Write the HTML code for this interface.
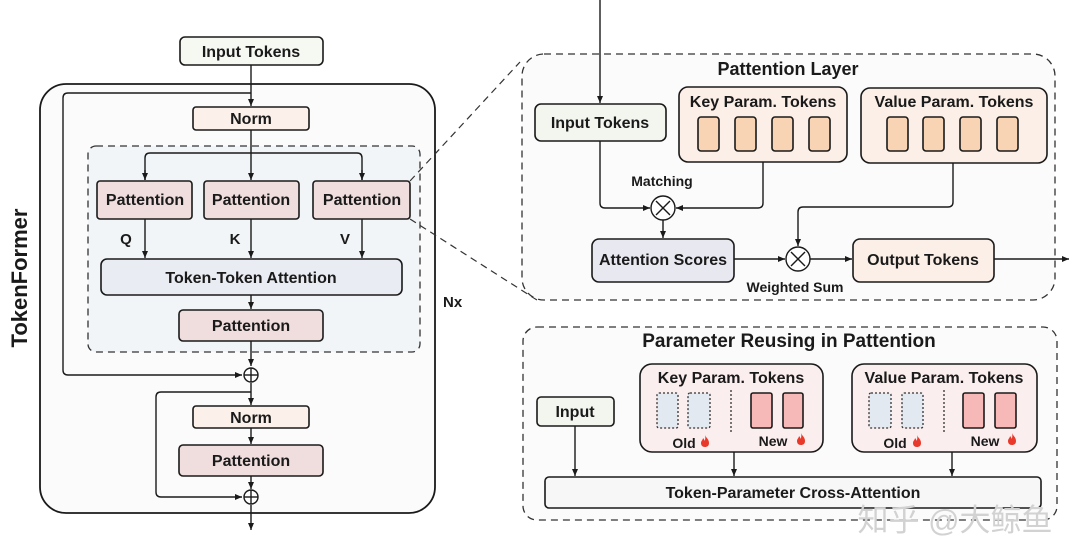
<!DOCTYPE html>
<html><head><meta charset="utf-8"><style>
html,body{margin:0;padding:0;background:#fff;}
svg{display:block;}
text{font-family:"Liberation Sans","Noto Sans CJK SC",sans-serif;font-weight:bold;fill:#1a1a1a;}
</style></head><body>
<svg width="1080" height="558" viewBox="0 0 1080 558" xmlns="http://www.w3.org/2000/svg">
<defs>
<marker id="a" markerWidth="8" markerHeight="8" refX="7" refY="4" orient="auto" markerUnits="userSpaceOnUse">
<path d="M0,1 L7,4 L0,7 z" fill="#1a1a1a"/></marker>
<g id="fire"><path d="M4,0 C5,3 8,4 8,8 C8,11 6,12 4,12 C1.5,12 0,10.5 0,8 C0,5.5 2,5 2,3 C3,4 3.5,5 3.5,6 C4.5,4.5 4.5,2 4,0 z" fill="#e8392b"/></g>
</defs>

<!-- LEFT -->
<rect x="180" y="37" width="143" height="28" rx="5" fill="#f6f8f2" stroke="#1a1a1a" stroke-width="1.6"/>
<text x="251" y="57" font-size="16" text-anchor="middle">Input Tokens</text>
<rect x="40" y="84" width="395" height="429" rx="26" fill="#fbfbfb" stroke="#1a1a1a" stroke-width="1.8"/>
<rect x="88" y="146" width="332" height="206" rx="8" fill="#f1f5f7" stroke="#333" stroke-width="1.3" stroke-dasharray="7,5"/>
<text transform="translate(27,278) rotate(-90)" font-size="22" text-anchor="middle">TokenFormer</text>
<text x="443" y="307" font-size="15">Nx</text>

<g stroke="#1a1a1a" stroke-width="1.4" fill="none">
<line x1="251" y1="65" x2="251" y2="106" marker-end="url(#a)"/>
<path d="M251,93 H68 Q63,93 63,98 V370 Q63,375 68,375 H242" marker-end="url(#a)"/>
<line x1="251" y1="130" x2="251" y2="180" marker-end="url(#a)"/>
<path d="M145,180 V158 Q145,153 150,153 H357 Q362,153 362,158 V180" />
<line x1="145" y1="170" x2="145" y2="180" marker-end="url(#a)"/>
<line x1="362" y1="170" x2="362" y2="180" marker-end="url(#a)"/>
<line x1="145" y1="219" x2="145" y2="258" marker-end="url(#a)"/>
<line x1="251" y1="219" x2="251" y2="258" marker-end="url(#a)"/>
<line x1="362" y1="219" x2="362" y2="258" marker-end="url(#a)"/>
<line x1="251" y1="295" x2="251" y2="309" marker-end="url(#a)"/>
<line x1="251" y1="341" x2="251" y2="366" marker-end="url(#a)"/>
<line x1="251" y1="383" x2="251" y2="405" marker-end="url(#a)"/>
<path d="M251,392 H161 Q156,392 156,397 V492 Q156,497 161,497 H242" marker-end="url(#a)"/>
<line x1="251" y1="428" x2="251" y2="444" marker-end="url(#a)"/>
<line x1="251" y1="476" x2="251" y2="489" marker-end="url(#a)"/>
<line x1="251" y1="505" x2="251" y2="530" marker-end="url(#a)"/>
<circle cx="251" cy="375" r="7" fill="#fff"/>
<line x1="244" y1="375" x2="258" y2="375"/><line x1="251" y1="368" x2="251" y2="382"/>
<circle cx="251" cy="497" r="7" fill="#fff"/>
<line x1="244" y1="497" x2="258" y2="497"/><line x1="251" y1="490" x2="251" y2="504"/>
</g>

<rect x="193" y="107" width="116" height="23" rx="3" fill="#fbf1ea" stroke="#1a1a1a" stroke-width="1.6"/>
<text x="251" y="124" font-size="16" text-anchor="middle">Norm</text>
<g fill="#f0dede" stroke="#1a1a1a" stroke-width="1.6">
<rect x="97" y="181" width="95" height="38" rx="3"/>
<rect x="204" y="181" width="95" height="38" rx="3"/>
<rect x="313" y="181" width="97" height="38" rx="3"/>
<rect x="179" y="310" width="144" height="31" rx="4"/>
<rect x="179" y="445" width="144" height="31" rx="4"/>
</g>
<text x="145" y="205" font-size="16" text-anchor="middle">Pattention</text>
<text x="251" y="205" font-size="16" text-anchor="middle">Pattention</text>
<text x="362" y="205" font-size="16" text-anchor="middle">Pattention</text>
<text x="126" y="244" font-size="15" text-anchor="middle">Q</text>
<text x="235" y="244" font-size="15" text-anchor="middle">K</text>
<text x="345" y="244" font-size="15" text-anchor="middle">V</text>
<rect x="101" y="259" width="301" height="36" rx="6" fill="#e9ecf2" stroke="#1a1a1a" stroke-width="1.6"/>
<text x="251" y="283" font-size="16" text-anchor="middle">Token-Token Attention</text>
<text x="251" y="331" font-size="16" text-anchor="middle">Pattention</text>
<rect x="193" y="406" width="116" height="22" rx="3" fill="#fbf1ea" stroke="#1a1a1a" stroke-width="1.6"/>
<text x="251" y="423" font-size="16" text-anchor="middle">Norm</text>
<text x="251" y="466" font-size="16" text-anchor="middle">Pattention</text>

<g stroke="#333" stroke-width="1.2" stroke-dasharray="7,5" fill="none">
<line x1="410" y1="181" x2="520" y2="62"/>
<line x1="410" y1="219" x2="537" y2="300"/>
</g>

<!-- TOP RIGHT -->
<rect x="522" y="54" width="533" height="246" rx="22" fill="#fbfbfb" stroke="#333" stroke-width="1.3" stroke-dasharray="7,5"/>
<text x="788" y="75" font-size="18" text-anchor="middle">Pattention Layer</text>
<g stroke="#1a1a1a" stroke-width="1.4" fill="none">
<line x1="600" y1="0" x2="600" y2="103" marker-end="url(#a)"/>
<path d="M600,141 V203 Q600,208 605,208 H650" marker-end="url(#a)"/>
<path d="M763,162 V203 Q763,208 758,208 H676" marker-end="url(#a)"/>
<line x1="663" y1="220" x2="663" y2="238" marker-end="url(#a)"/>
<line x1="734" y1="259" x2="785" y2="259" marker-end="url(#a)"/>
<path d="M953,163 V202 Q953,207 948,207 H803 Q798,207 798,212 V246" marker-end="url(#a)"/>
<line x1="810" y1="259" x2="852" y2="259" marker-end="url(#a)"/>
<line x1="994" y1="259" x2="1069" y2="259" marker-end="url(#a)"/>
<circle cx="663" cy="208" r="12" fill="#fff"/>
<line x1="656" y1="201" x2="670" y2="215"/><line x1="670" y1="201" x2="656" y2="215"/>
<circle cx="798" cy="259" r="12" fill="#fff"/>
<line x1="791" y1="252" x2="805" y2="266"/><line x1="805" y1="252" x2="791" y2="266"/>
</g>
<rect x="535" y="104" width="131" height="37" rx="6" fill="#f2f6ee" stroke="#1a1a1a" stroke-width="1.6"/>
<text x="600" y="128" font-size="16" text-anchor="middle">Input Tokens</text>
<rect x="679" y="87" width="168" height="75" rx="9" fill="#fbefe7" stroke="#1a1a1a" stroke-width="1.6"/>
<text x="763" y="107" font-size="16" text-anchor="middle">Key Param. Tokens</text>
<rect x="861" y="88" width="186" height="75" rx="9" fill="#fbefe7" stroke="#1a1a1a" stroke-width="1.6"/>
<text x="954" y="107" font-size="16" text-anchor="middle">Value Param. Tokens</text>
<g fill="#f8d4b4" stroke="#1a1a1a" stroke-width="1.6">
<rect x="698" y="117" width="21" height="34" rx="3"/><rect x="735" y="117" width="21" height="34" rx="3"/>
<rect x="772" y="117" width="21" height="34" rx="3"/><rect x="809" y="117" width="21" height="34" rx="3"/>
<rect x="887" y="117" width="21" height="34" rx="3"/><rect x="923" y="117" width="21" height="34" rx="3"/>
<rect x="960" y="117" width="21" height="34" rx="3"/><rect x="997" y="117" width="21" height="34" rx="3"/>
</g>
<text x="662" y="186" font-size="14" text-anchor="middle">Matching</text>
<rect x="592" y="239" width="142" height="43" rx="7" fill="#e8e8f0" stroke="#1a1a1a" stroke-width="1.6"/>
<text x="663" y="265" font-size="16" text-anchor="middle">Attention Scores</text>
<rect x="853" y="239" width="141" height="43" rx="7" fill="#fbefe7" stroke="#1a1a1a" stroke-width="1.6"/>
<text x="923" y="265" font-size="16" text-anchor="middle">Output Tokens</text>
<text x="795" y="292" font-size="14" text-anchor="middle">Weighted Sum</text>

<!-- BOTTOM RIGHT -->
<rect x="523" y="327" width="534" height="193" rx="14" fill="#fbfbfb" stroke="#333" stroke-width="1.3" stroke-dasharray="7,5"/>
<text x="789" y="347" font-size="19" text-anchor="middle">Parameter Reusing in Pattention</text>
<rect x="537" y="397" width="77" height="29" rx="4" fill="#f2f6ee" stroke="#1a1a1a" stroke-width="1.6"/>
<text x="575" y="417" font-size="16" text-anchor="middle">Input</text>
<rect x="640" y="364" width="183" height="88" rx="12" fill="#fbeeee" stroke="#1a1a1a" stroke-width="1.6"/>
<text x="731" y="383" font-size="16" text-anchor="middle">Key Param. Tokens</text>
<rect x="852" y="364" width="185" height="88" rx="12" fill="#fbeeee" stroke="#1a1a1a" stroke-width="1.6"/>
<text x="944" y="383" font-size="16" text-anchor="middle">Value Param. Tokens</text>
<g fill="#e3e9f0" stroke="#333" stroke-width="1.3" stroke-dasharray="2,2">
<rect x="657" y="393" width="21" height="35" rx="2"/><rect x="688" y="393" width="22" height="35" rx="2"/>
<rect x="869" y="393" width="22" height="35" rx="2"/><rect x="902" y="393" width="21" height="35" rx="2"/>
<line x1="731" y1="390" x2="731" y2="432"/><line x1="944" y1="390" x2="944" y2="432"/>
</g>
<g fill="#f7b8b8" stroke="#1a1a1a" stroke-width="1.6">
<rect x="751" y="393" width="21" height="35" rx="2"/><rect x="783" y="393" width="20" height="35" rx="2"/>
<rect x="963" y="393" width="21" height="35" rx="2"/><rect x="995" y="393" width="21" height="35" rx="2"/>
</g>
<text x="684" y="448" font-size="14" text-anchor="middle">Old</text>
<text x="773" y="446" font-size="14" text-anchor="middle">New</text>
<text x="895" y="448" font-size="14" text-anchor="middle">Old</text>
<text x="985" y="446" font-size="14" text-anchor="middle">New</text>
<use href="#fire" x="701" y="435"/><use href="#fire" x="797" y="433"/>
<use href="#fire" x="913" y="435"/><use href="#fire" x="1008" y="433"/>
<g stroke="#1a1a1a" stroke-width="1.4" fill="none">
<line x1="575" y1="426" x2="575" y2="476" marker-end="url(#a)"/>
<line x1="734" y1="452" x2="734" y2="476" marker-end="url(#a)"/>
<line x1="952" y1="452" x2="952" y2="476" marker-end="url(#a)"/>
</g>
<rect x="545" y="477" width="496" height="31" rx="4" fill="#f7f7f7" stroke="#1a1a1a" stroke-width="1.6"/>
<text x="793" y="498" font-size="16" text-anchor="middle">Token-Parameter Cross-Attention</text>
<text x="955" y="531" font-size="31" text-anchor="middle" style="fill:#d2d2d2;font-weight:normal;">知乎 @大鲸鱼</text>
</svg>
</body></html>
